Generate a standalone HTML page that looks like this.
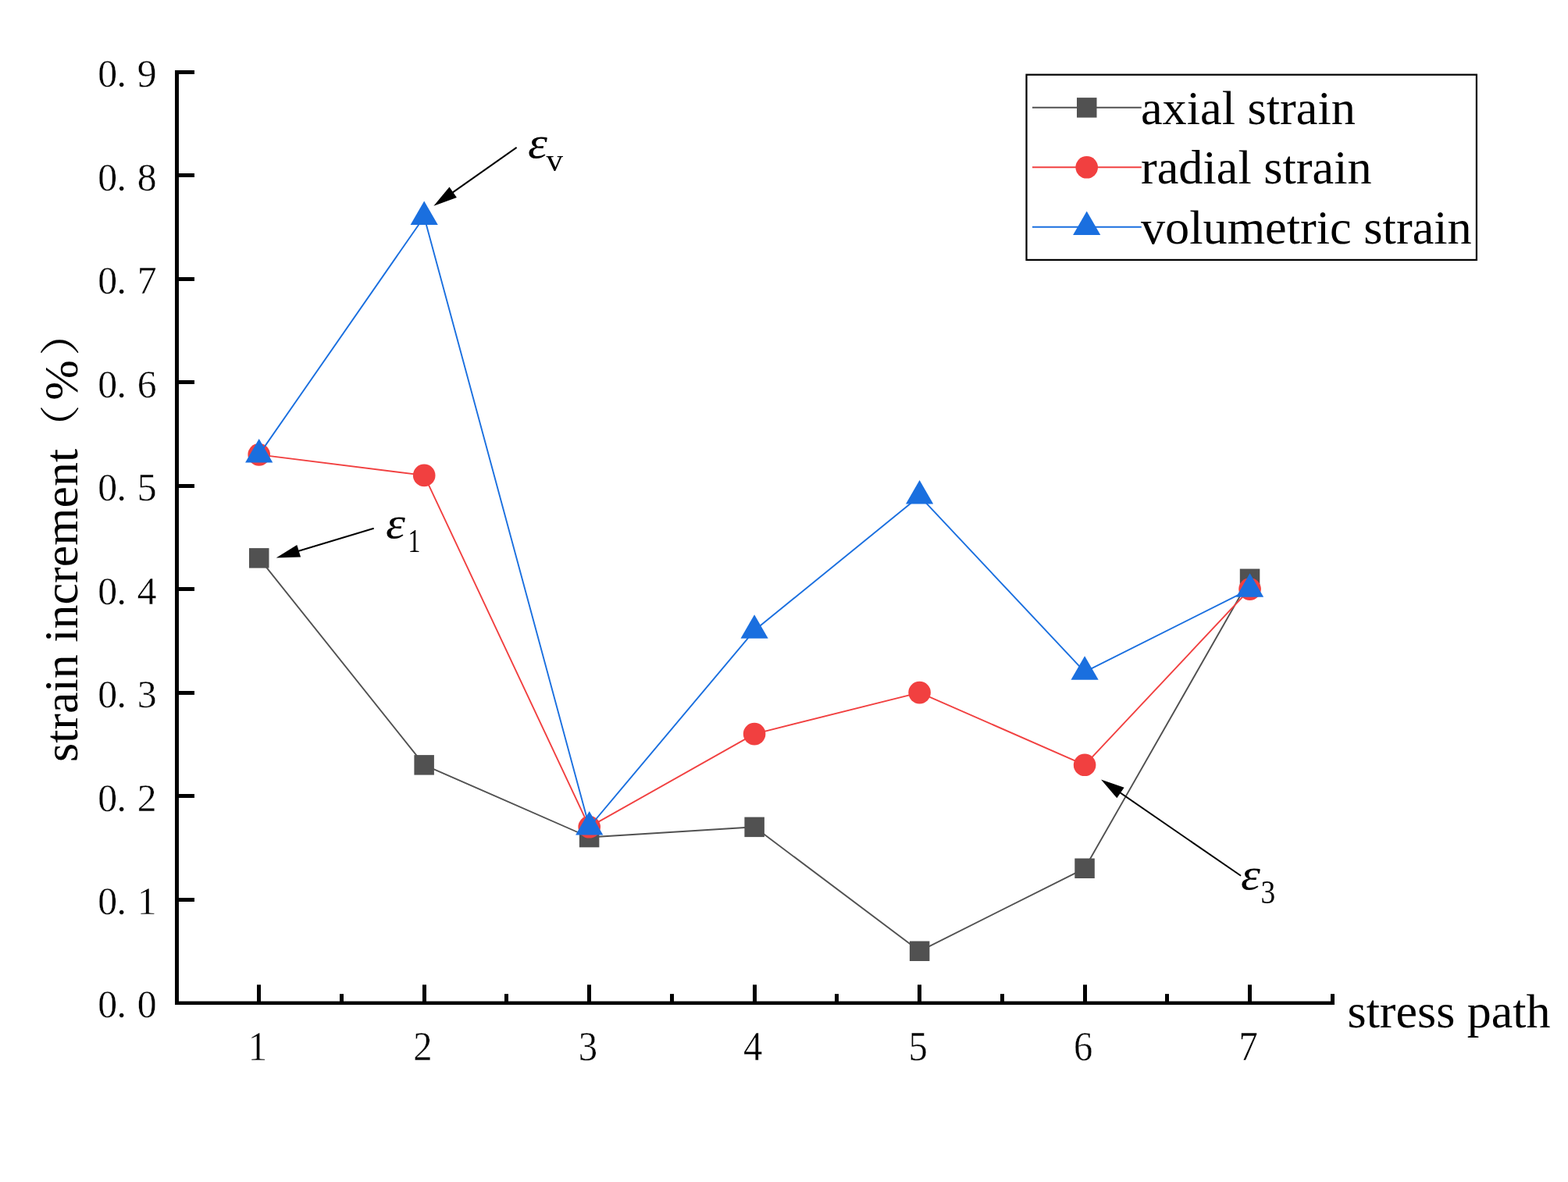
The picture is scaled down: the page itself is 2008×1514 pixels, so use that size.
<!DOCTYPE html>
<html lang="en">
<head>
<meta charset="utf-8">
<title>strain increment vs stress path</title>
<style>
html,body{margin:0;padding:0;background:#fff;}
body{width:2008px;height:1514px;overflow:hidden;}
svg{display:block;}
text{font-family:"Liberation Serif", "Noto Serif CJK SC", serif;fill:#000;}
.tk{font-size:51.5px;stroke:#fff;stroke-width:0.4px;}
.lg{font-size:62px;}
.lgd{font-size:62.3px;}
.par{font-size:51.8px;}
.eps{font-size:56px;font-style:italic;}
.it{font-style:italic;}
.sub{font-size:43px;font-style:normal;}
</style>
</head>
<body>
<svg width="2008" height="1514" viewBox="0 0 2008 1514">
<rect x="0" y="0" width="2008" height="1514" fill="#ffffff"/>
<g id="series-axial"><polyline points="331.7,714.9 543.2,979.8 754.7,1072.5 966.1,1059.3 1177.6,1218.3 1389.1,1112.3 1600.6,741.4" fill="none" stroke="#515151" stroke-width="1.9" stroke-linejoin="round"/><rect x="319.0" y="702.1" width="25.5" height="25.5" fill="#515151"/><rect x="530.4" y="967.1" width="25.5" height="25.5" fill="#515151"/><rect x="741.9" y="1059.8" width="25.5" height="25.5" fill="#515151"/><rect x="953.4" y="1046.6" width="25.5" height="25.5" fill="#515151"/><rect x="1164.9" y="1205.5" width="25.5" height="25.5" fill="#515151"/><rect x="1376.3" y="1099.5" width="25.5" height="25.5" fill="#515151"/><rect x="1587.8" y="728.6" width="25.5" height="25.5" fill="#515151"/></g>
<g id="series-radial"><polyline points="331.7,582.4 543.2,608.9 754.7,1059.3 966.1,940.1 1177.6,887.1 1389.1,979.8 1600.6,754.6" fill="none" stroke="#F14040" stroke-width="1.9" stroke-linejoin="round"/><circle cx="331.7" cy="582.4" r="14.3" fill="#F14040"/><circle cx="543.2" cy="608.9" r="14.3" fill="#F14040"/><circle cx="754.7" cy="1059.3" r="14.3" fill="#F14040"/><circle cx="966.1" cy="940.1" r="14.3" fill="#F14040"/><circle cx="1177.6" cy="887.1" r="14.3" fill="#F14040"/><circle cx="1389.1" cy="979.8" r="14.3" fill="#F14040"/><circle cx="1600.6" cy="754.6" r="14.3" fill="#F14040"/></g>
<g id="series-volumetric"><polyline points="331.7,582.4 543.2,277.7 754.7,1059.3 966.1,807.6 1177.6,635.4 1389.1,860.6 1600.6,754.6" fill="none" stroke="#1A6FDF" stroke-width="1.9" stroke-linejoin="round"/><polygon points="331.7,562.1 314.1,592.6 349.3,592.6" fill="#1A6FDF"/><polygon points="543.2,257.4 525.6,287.9 560.8,287.9" fill="#1A6FDF"/><polygon points="754.7,1039.0 737.1,1069.5 772.3,1069.5" fill="#1A6FDF"/><polygon points="966.1,787.3 948.5,817.8 983.7,817.8" fill="#1A6FDF"/><polygon points="1177.6,615.1 1160.0,645.6 1195.2,645.6" fill="#1A6FDF"/><polygon points="1389.1,840.3 1371.5,870.8 1406.7,870.8" fill="#1A6FDF"/><polygon points="1600.6,734.3 1583.0,764.8 1618.2,764.8" fill="#1A6FDF"/></g>
<g id="axes" stroke="#000" stroke-width="5" fill="none" stroke-linecap="butt">
<path d="M226.5 90 V1287"/>
<path d="M224 1284.7 H1709" stroke-width="4.6"/>
<path d="M224 1152.5 H249"/>
<path d="M224 1019.5 H249"/>
<path d="M224 887.5 H249"/>
<path d="M224 754.5 H249"/>
<path d="M224 622.5 H249"/>
<path d="M224 489.5 H249"/>
<path d="M224 357.5 H249"/>
<path d="M224 224.5 H249"/>
<path d="M224 92.5 H249"/>
<path d="M331.5 1261.3 V1287"/>
<path d="M543.5 1261.3 V1287"/>
<path d="M754.5 1261.3 V1287"/>
<path d="M966.5 1261.3 V1287"/>
<path d="M1177.5 1261.3 V1287"/>
<path d="M1389.5 1261.3 V1287"/>
<path d="M1600.5 1261.3 V1287"/>
<path d="M437.5 1273.1 V1287"/>
<path d="M648.5 1273.1 V1287"/>
<path d="M860.5 1273.1 V1287"/>
<path d="M1071.5 1273.1 V1287"/>
<path d="M1283.5 1273.1 V1287"/>
<path d="M1494.5 1273.1 V1287"/>
<path d="M1706.5 1273.1 V1287"/>
</g>
<g id="ticklabels" class="tk">
<text class="tk" text-anchor="middle" transform="translate(137.6 1303.4) scale(0.965 1)" x="0 18.8 52.38" y="0">0.0</text>
<text class="tk" text-anchor="middle" transform="translate(137.6 1170.9) scale(0.965 1)" x="0 18.8 52.38" y="0">0.1</text>
<text class="tk" text-anchor="middle" transform="translate(137.6 1038.5) scale(0.965 1)" x="0 18.8 52.38" y="0">0.2</text>
<text class="tk" text-anchor="middle" transform="translate(137.6 906.0) scale(0.965 1)" x="0 18.8 52.38" y="0">0.3</text>
<text class="tk" text-anchor="middle" transform="translate(137.6 773.5) scale(0.965 1)" x="0 18.8 52.38" y="0">0.4</text>
<text class="tk" text-anchor="middle" transform="translate(137.6 641.0) scale(0.965 1)" x="0 18.8 52.38" y="0">0.5</text>
<text class="tk" text-anchor="middle" transform="translate(137.6 508.6) scale(0.965 1)" x="0 18.8 52.38" y="0">0.6</text>
<text class="tk" text-anchor="middle" transform="translate(137.6 376.1) scale(0.965 1)" x="0 18.8 52.38" y="0">0.7</text>
<text class="tk" text-anchor="middle" transform="translate(137.6 243.6) scale(0.965 1)" x="0 18.8 52.38" y="0">0.8</text>
<text class="tk" text-anchor="middle" transform="translate(137.6 111.2) scale(0.965 1)" x="0 18.8 52.38" y="0">0.9</text>
<text class="tk" text-anchor="middle" transform="translate(329.8 1357.9) scale(0.945 1.03)" x="0" y="0">1</text>
<text class="tk" text-anchor="middle" transform="translate(541.3 1357.9) scale(0.945 1.03)" x="0" y="0">2</text>
<text class="tk" text-anchor="middle" transform="translate(752.8 1357.9) scale(0.945 1.03)" x="0" y="0">3</text>
<text class="tk" text-anchor="middle" transform="translate(964.2 1357.9) scale(0.945 1.03)" x="0" y="0">4</text>
<text class="tk" text-anchor="middle" transform="translate(1175.7 1357.9) scale(0.945 1.03)" x="0" y="0">5</text>
<text class="tk" text-anchor="middle" transform="translate(1387.2 1357.9) scale(0.945 1.03)" x="0" y="0">6</text>
<text class="tk" text-anchor="middle" transform="translate(1598.7 1357.9) scale(0.945 1.03)" x="0" y="0">7</text>
</g>
<text class="lg" x="1725.5" y="1316.2">stress path</text>
<g id="ytitle" transform="translate(99 976) rotate(-90)"><text class="lg" x="0" y="0">strain increment</text><text class="par" transform="translate(398.3 -2.8) scale(1.15 1)" x="0" y="0">（</text><text class="lg" x="463.2" y="0">%</text><text class="par" transform="translate(520.1 -2.8) scale(1.15 1)" x="0" y="0">）</text></g>
<g id="legend">
<rect x="1314.5" y="95.7" width="576.4" height="237.2" fill="#fff" stroke="#000" stroke-width="2.2"/>
<line x1="1322" y1="137.8" x2="1461.8" y2="137.8" stroke="#515151" stroke-width="2.0"/>
<rect x="1379.0" y="125.1" width="25.5" height="25.5" fill="#515151"/>
<text class="lgd" x="1460.9" y="159.1">axial strain</text>
<line x1="1322" y1="214.3" x2="1461.8" y2="214.3" stroke="#F14040" stroke-width="2.0"/>
<circle cx="1391.7" cy="214.3" r="14.3" fill="#F14040"/>
<text class="lgd" x="1460.9" y="235.3">radial strain</text>
<line x1="1322" y1="290.7" x2="1461.8" y2="290.7" stroke="#1A6FDF" stroke-width="2.0"/>
<polygon points="1391.7,270.4 1374.1,300.9 1409.3,300.9" fill="#1A6FDF"/>
<text class="lgd" x="1460.9" y="311.5">volumetric strain</text>
</g>
<g id="annotations">
<line x1="661.6" y1="188.9" x2="578.5" y2="247.4" stroke="#000" stroke-width="2.0"/><polygon points="555.4,263.7 575.5,239.5 584.9,253.0" fill="#000"/>
<line x1="478.7" y1="676.7" x2="380.8" y2="706.3" stroke="#000" stroke-width="2.0"/><polygon points="353.7,714.5 380.3,697.9 385.1,713.6" fill="#000"/>
<line x1="1589.1" y1="1121.8" x2="1433.3" y2="1014.5" stroke="#000" stroke-width="2.0"/><polygon points="1410.0,998.4 1439.6,1008.8 1430.3,1022.3" fill="#000"/>
<text class="eps" transform="translate(676.0 201.6) scale(1.13 1)" x="0" y="0">ε</text><text class="sub" transform="translate(699.5 219.2) scale(1.00 1)" x="0" y="0">v</text>
<text class="eps" transform="translate(494.0 689.3) scale(1.13 1)" x="0" y="0">ε</text><text class="sub" transform="translate(522.5 706.9) scale(0.74 1)" x="0" y="0">1</text>
<text class="eps" transform="translate(1589.0 1138.9) scale(1.13 1)" x="0" y="0">ε</text><text class="sub" transform="translate(1614.5 1156.5) scale(0.87 1)" x="0" y="0">3</text>
</g>
</svg>
</body>
</html>
